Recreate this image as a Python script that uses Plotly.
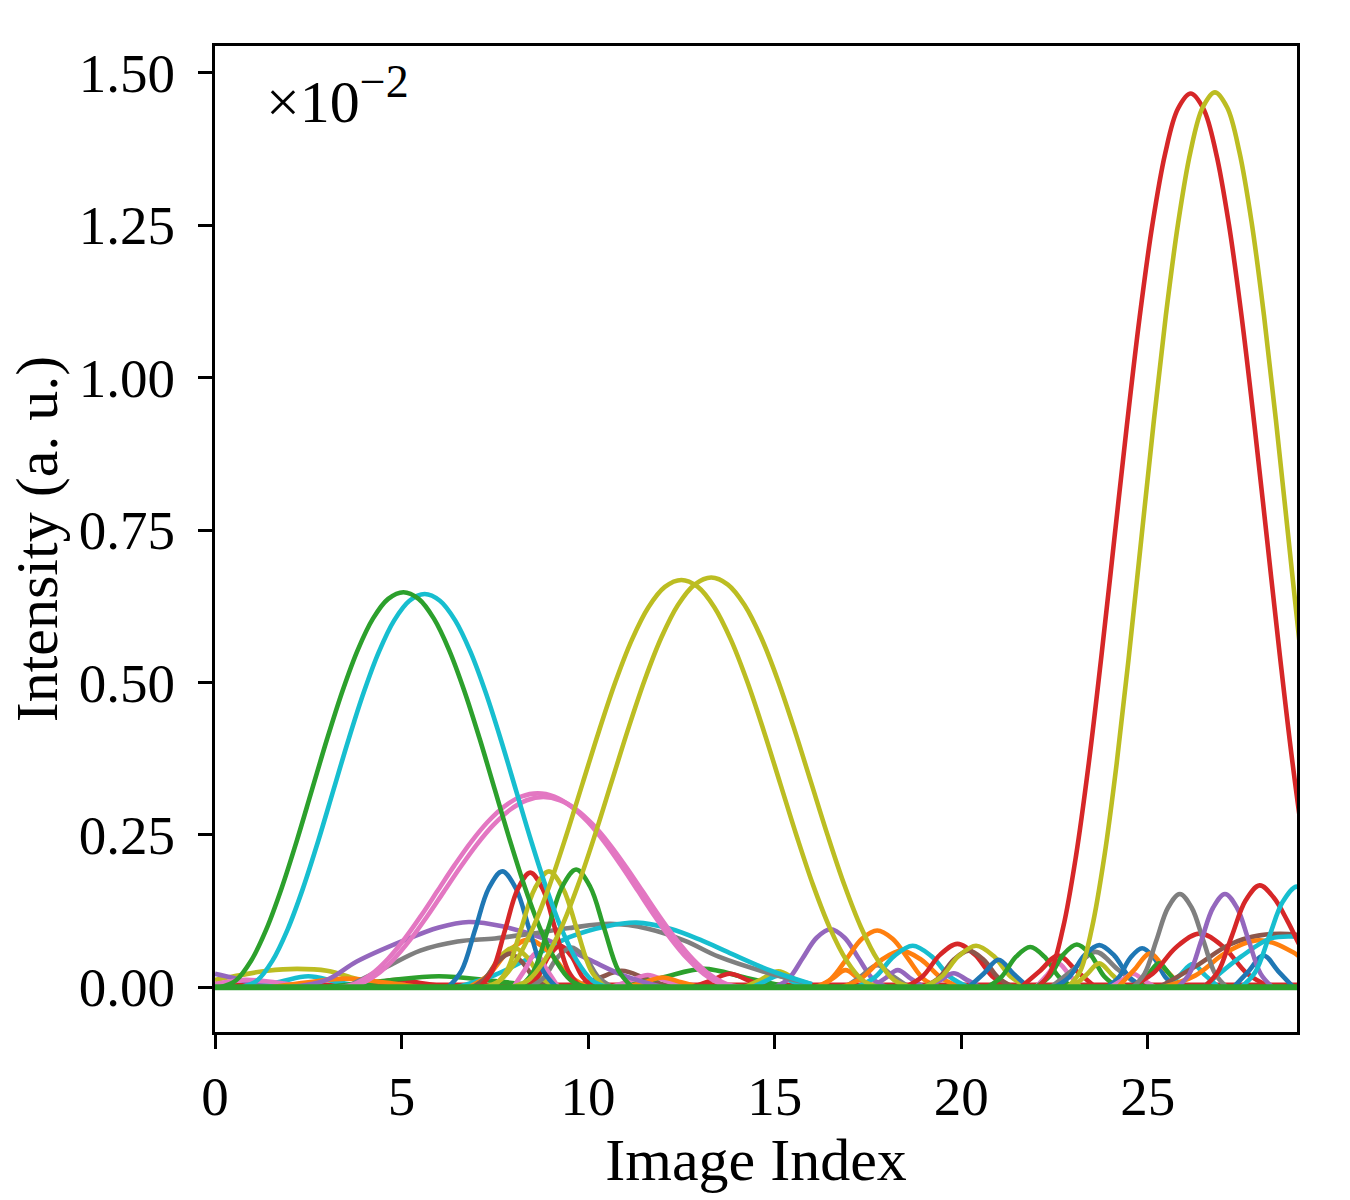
import plotly.graph_objects as go

# ---------------- data (in units of 1e-2) ----------------
x_ticks = [0, 5, 10, 15, 20, 25]
y_ticks = [0.0, 0.25, 0.5, 0.75, 1.0, 1.25, 1.5]
y_ticklabels = ["0.00", "0.25", "0.50", "0.75", "1.00", "1.25", "1.50"]

# low clutter, left part
olive9_x = [0, 0.7, 1.4, 2.2, 3.0, 3.7, 4.4]
olive9_y = [0.012, 0.02, 0.027, 0.03, 0.027, 0.015, 0]
cyan8_x = [1.0, 1.75, 2.5, 3.25, 4.0]
cyan8_y = [0, 0.009, 0.018, 0.009, 0]
purple6_x = [0, 0.5, 1.0, 1.5]
purple6_y = [0.022, 0.015, 0.006, 0]
pink7_x = [0, 0.8, 1.6, 2.4]
pink7_y = [0.005, 0.012, 0.008, 0]
red9_x = [3.5, 4.2, 4.9, 5.6, 6.3]
red9_y = [0, 0.006, 0.012, 0.006, 0]
green7_x = [3.0, 4.5, 6.0, 7.5, 9.0]
green7_y = [0, 0.01, 0.018, 0.01, 0]
orange8_x = [1.5, 2.5, 3.5, 4.5, 5.5]
orange8_y = [0, 0.008, 0.014, 0.008, 0]

# broad low humps
purple1_x = [2.0, 3.0, 3.8, 5.0, 6.0, 6.8, 7.7, 8.8, 10.0, 11.0, 12.0]
purple1_y = [0, 0.012, 0.042, 0.075, 0.098, 0.107, 0.1, 0.08, 0.046, 0.018, 0]
gray1_x = [3.5, 4.5, 5.5, 6.5, 7.5, 8.5, 9.5, 10.6, 11.6, 12.6, 13.5, 14.9, 16.0]
gray1_y = [0, 0.03, 0.06, 0.075, 0.08, 0.088, 0.097, 0.104, 0.096, 0.076, 0.05, 0.022, 0.005]
cyan2_x = [6.5, 7.5, 8.5, 9.5, 10.5, 11.3, 12.2, 13.0, 13.8, 14.9, 16.0]
cyan2_y = [0, 0.02, 0.05, 0.082, 0.1, 0.106, 0.096, 0.078, 0.056, 0.027, 0.005]

# small bumps around index 8-10
orange1_x = [6.8, 7.33, 7.87, 8.4, 8.93, 9.47, 10.0]
orange1_y = [0, 0.02, 0.059, 0.078, 0.059, 0.02, 0]
olive5_x = [6.9, 7.27, 7.63, 8.0, 8.37, 8.73, 9.1]
olive5_y = [0, 0.016, 0.049, 0.065, 0.049, 0.016, 0]
brown1_x = [6.9, 7.23, 7.57, 7.9, 8.23, 8.57, 8.9]
brown1_y = [0, 0.014, 0.041, 0.055, 0.041, 0.014, 0]
red3_x = [8.35, 8.65, 8.95, 9.25, 9.55, 9.85, 10.15]
red3_y = [0, 0.017, 0.051, 0.068, 0.051, 0.017, 0]
gray2_x = [8.45, 8.82, 9.18, 9.55, 9.92, 10.28, 10.65]
gray2_y = [0, 0.016, 0.049, 0.065, 0.049, 0.016, 0]
pink3_x = [8.0, 8.3, 8.6, 8.9, 9.2]
pink3_y = [0, 0.028, 0.055, 0.028, 0]

# middle region small bumps
brown3_x = [9.6, 10.25, 10.9, 11.55, 12.2]
brown3_y = [0, 0.014, 0.027, 0.014, 0]
green4_x = [10.8, 11.95, 13.1, 14.25, 15.4]
green4_y = [0, 0.015, 0.03, 0.015, 0]
pink4_x = [10.6, 11.1, 11.6, 12.1, 12.6]
pink4_y = [0, 0.01, 0.02, 0.01, 0]
orange5_x = [11.0, 11.5, 12.0, 12.5, 13.0]
orange5_y = [0, 0.008, 0.016, 0.008, 0]
red5_x = [12.8, 13.3, 13.8, 14.3, 14.8]
red5_y = [0, 0.011, 0.022, 0.011, 0]
olive7_x = [14.2, 14.65, 15.1, 15.55, 16.0]
olive7_y = [0, 0.013, 0.026, 0.013, 0]
cyan4_x = [14.4, 14.75, 15.1, 15.45, 15.8]
cyan4_y = [0, 0.01, 0.019, 0.01, 0]
purple2_x = [15.0, 15.375, 15.75, 16.125, 16.5, 16.875, 17.25, 17.625, 18.0]
purple2_y = [0, 0.0139, 0.0475, 0.0811, 0.095, 0.0811, 0.0475, 0.0139, 0]
orange4_x = [16.2, 16.55, 16.9, 17.25, 17.6]
orange4_y = [0, 0.014, 0.028, 0.014, 0]
orange2_x = [16.1, 16.51, 16.93, 17.34, 17.75, 18.16, 18.58, 18.99, 19.4]
orange2_y = [0, 0.0136, 0.0465, 0.0794, 0.093, 0.0794, 0.0465, 0.0136, 0]
gray3_x = [16.9, 17.32, 17.75, 18.17, 18.6]
gray3_y = [0, 0.018, 0.036, 0.018, 0]
orange3_x = [16.8, 17.33, 17.87, 18.4, 18.93, 19.47, 20.0]
orange3_y = [0, 0.015, 0.045, 0.06, 0.045, 0.015, 0]
cyan3_x = [17.2, 17.7, 18.2, 18.7, 19.2, 19.7, 20.2]
cyan3_y = [0, 0.017, 0.051, 0.068, 0.051, 0.017, 0]
purple3_x = [17.6, 17.95, 18.3, 18.65, 19.0]
purple3_y = [0, 0.014, 0.028, 0.014, 0]
red4_x = [18.5, 18.97, 19.43, 19.9, 20.37, 20.83, 21.3]
red4_y = [0, 0.018, 0.053, 0.071, 0.053, 0.018, 0]
purple4_x = [19.1, 19.45, 19.8, 20.15, 20.5]
purple4_y = [0, 0.012, 0.023, 0.012, 0]
brown2_x = [19.0, 19.4, 19.8, 20.2, 20.6, 21.0, 21.4]
brown2_y = [0, 0.015, 0.045, 0.06, 0.045, 0.015, 0]
olive6_x = [19.0, 19.47, 19.93, 20.4, 20.87, 21.33, 21.8]
olive6_y = [0, 0.017, 0.051, 0.068, 0.051, 0.017, 0]
blue2_x = [20.2, 20.6, 21.0, 21.4, 21.8]
blue2_y = [0, 0.022, 0.045, 0.022, 0]
green3_x = [20.7, 21.08, 21.47, 21.85, 22.23, 22.62, 23.0]
green3_y = [0, 0.017, 0.05, 0.066, 0.05, 0.017, 0]

# right region small bumps
red8_x = [21.6, 22.1, 22.6, 23.1, 23.6]
red8_y = [0, 0.026, 0.052, 0.026, 0]
pink5_x = [22.0, 22.3, 22.6, 22.9, 23.2]
pink5_y = [0, 0.02, 0.039, 0.02, 0]
gray5_x = [22.4, 23.0, 23.6, 24.2, 24.8]
gray5_y = [0, 0.029, 0.058, 0.029, 0]
green5_x = [22.0, 22.37, 22.73, 23.1, 23.47, 23.83, 24.2]
green5_y = [0, 0.018, 0.053, 0.07, 0.053, 0.018, 0]
blue4_x = [22.5, 22.9, 23.3, 23.7, 24.1, 24.5, 24.9]
blue4_y = [0, 0.017, 0.052, 0.069, 0.052, 0.017, 0]
olive8_x = [23.0, 23.35, 23.7, 24.05, 24.4]
olive8_y = [0, 0.02, 0.039, 0.02, 0]
blue5_x = [23.9, 24.22, 24.53, 24.85, 25.17, 25.48, 25.8]
blue5_y = [0, 0.016, 0.048, 0.064, 0.048, 0.016, 0]
pink6_x = [24.0, 24.3, 24.6, 24.9, 25.2]
pink6_y = [0, 0.011, 0.022, 0.011, 0]
orange7_x = [24.2, 24.63, 25.06, 25.49, 25.92]
orange7_y = [0, 0.028, 0.055, 0.028, 0]
green6_x = [24.7, 25.0, 25.3, 25.6, 25.9]
green6_y = [0, 0.02, 0.039, 0.02, 0]
cyan7_x = [25.5, 25.85, 26.2, 26.55, 26.9]
cyan7_y = [0, 0.019, 0.038, 0.019, 0]
red7_x = [24.5, 25.13, 25.77, 26.4, 27.03, 27.67, 28.3]
red7_y = [0, 0.022, 0.066, 0.088, 0.066, 0.022, 0]
brown4_x = [25.3, 26.3, 27.2, 28.0, 29.0, 30.0]
brown4_y = [0, 0.035, 0.07, 0.085, 0.086, 0.07]
orange6_x = [25.4, 26.27, 27.13, 28.0, 28.87, 29.73, 30.6]
orange6_y = [0, 0.019, 0.058, 0.077, 0.058, 0.019, 0]
cyan6_x = [26.5, 27.5, 28.3, 29.0, 29.8]
cyan6_y = [0, 0.05, 0.08, 0.083, 0.08]
blue3_x = [27.3, 27.7, 28.1, 28.5, 28.9]
blue3_y = [0, 0.026, 0.052, 0.026, 0]
gray4_x = [24.6, 24.915, 25.23, 25.545, 25.86, 26.175, 26.49, 26.805, 27.12]
gray4_y = [0, 0.0223, 0.0765, 0.1307, 0.153, 0.1307, 0.0765, 0.0223, 0]
purple5_x = [25.8, 26.118, 26.435, 26.753, 27.07, 27.388, 27.705, 28.023, 28.34]
purple5_y = [0, 0.0223, 0.0765, 0.1307, 0.153, 0.1307, 0.0765, 0.0223, 0]
red6_x = [26.5, 26.875, 27.25, 27.625, 28.0, 28.375, 28.75, 29.125, 29.5]
red6_y = [0, 0.0244, 0.0835, 0.1426, 0.167, 0.147, 0.108, 0.062, 0.022]
cyan5_x = [27.5, 27.875, 28.25, 28.625, 29.0, 29.375, 29.75, 30.125, 30.5]
cyan5_y = [0, 0.0241, 0.0825, 0.1409, 0.165, 0.1409, 0.0825, 0.0241, 0]

# medium bumps around index 8-10
blue1_x = [6.25, 6.6125, 6.975, 7.3375, 7.7, 8.0625, 8.425, 8.7875, 9.15]
blue1_y = [0, 0.0277, 0.095, 0.1623, 0.19, 0.1623, 0.095, 0.0277, 0]
red2_x = [7.1, 7.4375, 7.775, 8.1125, 8.45, 8.7875, 9.125, 9.4625, 9.8]
red2_y = [0, 0.0274, 0.094, 0.1606, 0.188, 0.1606, 0.094, 0.0274, 0]
olive4_x = [7.45, 7.825, 8.2, 8.575, 8.95, 9.325, 9.7, 10.075, 10.45]
olive4_y = [0, 0.0277, 0.095, 0.1623, 0.19, 0.1623, 0.095, 0.0277, 0]
green2_x = [8.18, 8.555, 8.93, 9.305, 9.68, 10.055, 10.43, 10.805, 11.18]
green2_y = [0, 0.0282, 0.0965, 0.1648, 0.193, 0.1648, 0.0965, 0.0282, 0]

# large peaks
pink1_x = [3.3, 3.746, 4.192, 4.638, 5.083, 5.529, 5.975, 6.421, 6.867, 7.313, 7.758, 8.204, 8.65,
           9.096, 9.542, 9.988, 10.433, 10.879, 11.325, 11.771, 12.217, 12.663, 13.108, 13.554, 14.0]
pink1_y = [0, 0.0054, 0.0213, 0.0466, 0.0795, 0.1178, 0.159, 0.2002, 0.2385, 0.2714, 0.2967, 0.3126, 0.318,
           0.3126, 0.2967, 0.2714, 0.2385, 0.2002, 0.159, 0.1178, 0.0795, 0.0466, 0.0213, 0.0054, 0]
pink2_x = [3.45, 3.896, 4.342, 4.788, 5.233, 5.679, 6.125, 6.571, 7.017, 7.463, 7.908, 8.354, 8.8,
           9.246, 9.692, 10.138, 10.583, 11.029, 11.475, 11.921, 12.367, 12.813, 13.258, 13.704, 14.15]
pink2_y = [0, 0.0053, 0.0209, 0.0457, 0.078, 0.1156, 0.156, 0.1964, 0.234, 0.2663, 0.2911, 0.3067, 0.312,
           0.3067, 0.2911, 0.2663, 0.234, 0.1964, 0.156, 0.1156, 0.078, 0.0457, 0.0209, 0.0053, 0]
cyan1_x = [0.72, 1.128, 1.537, 1.945, 2.353, 2.762, 3.17, 3.578, 3.987, 4.395, 4.803, 5.212, 5.62,
           6.028, 6.437, 6.845, 7.253, 7.662, 8.07, 8.478, 8.887, 9.295, 9.703, 10.112, 10.52]
cyan1_y = [0, 0.011, 0.0432, 0.0945, 0.1613, 0.239, 0.3225, 0.406, 0.4838, 0.5505, 0.6018, 0.634, 0.645,
           0.634, 0.6018, 0.5505, 0.4838, 0.406, 0.3225, 0.239, 0.1613, 0.0945, 0.0432, 0.011, 0]
green1_x = [0.15, 0.558, 0.967, 1.375, 1.783, 2.192, 2.6, 3.008, 3.417, 3.825, 4.233, 4.642, 5.05,
            5.458, 5.867, 6.275, 6.683, 7.092, 7.5, 7.908, 8.317, 8.725, 9.133, 9.542, 9.95]
green1_y = [0, 0.011, 0.0434, 0.0949, 0.162, 0.2401, 0.324, 0.4079, 0.486, 0.5531, 0.6046, 0.637, 0.648,
            0.637, 0.6046, 0.5531, 0.486, 0.4079, 0.324, 0.2401, 0.162, 0.0949, 0.0434, 0.011, 0]
olive1_x = [7.2, 7.642, 8.083, 8.525, 8.967, 9.408, 9.85, 10.292, 10.733, 11.175, 11.617, 12.058, 12.5,
            12.942, 13.383, 13.825, 14.267, 14.708, 15.15, 15.592, 16.033, 16.475, 16.917, 17.358, 17.8]
olive1_y = [0, 0.0114, 0.0448, 0.0978, 0.167, 0.2476, 0.334, 0.4204, 0.501, 0.5702, 0.6233, 0.6566, 0.668,
            0.6566, 0.6233, 0.5702, 0.501, 0.4204, 0.334, 0.2476, 0.167, 0.0978, 0.0448, 0.0114, 0]
olive2_x = [7.95, 8.396, 8.842, 9.288, 9.733, 10.179, 10.625, 11.071, 11.517, 11.963, 12.408, 12.854, 13.3,
            13.746, 14.192, 14.638, 15.083, 15.529, 15.975, 16.421, 16.867, 17.313, 17.758, 18.204, 18.65]
olive2_y = [0, 0.0115, 0.045, 0.0984, 0.168, 0.249, 0.336, 0.423, 0.504, 0.5736, 0.627, 0.6605, 0.672,
            0.6605, 0.627, 0.5736, 0.504, 0.423, 0.336, 0.249, 0.168, 0.0984, 0.045, 0.0115, 0]
red1_x = [22.05, 22.392, 22.733, 23.075, 23.417, 23.758, 24.1, 24.442, 24.783, 25.125, 25.467, 25.808, 26.15,
          26.492, 26.833, 27.175, 27.517, 27.858, 28.2, 28.542, 28.883, 29.225, 29.567, 29.908, 30.25]
red1_y = [0, 0.025, 0.0982, 0.2147, 0.3665, 0.5433, 0.733, 0.9227, 1.0995, 1.2513, 1.3678, 1.441, 1.466,
          1.441, 1.3678, 1.2513, 1.0995, 0.9227, 0.733, 0.5433, 0.3665, 0.2147, 0.0982, 0.025, 0]
olive3_x = [22.85, 23.179, 23.508, 23.838, 24.167, 24.496, 24.825, 25.154, 25.483, 25.813, 26.142, 26.471, 26.8,
            27.129, 27.458, 27.788, 28.117, 28.446, 28.775, 29.104, 29.433, 29.763, 30.092, 30.421, 30.75]
olive3_y = [0, 0.025, 0.0983, 0.215, 0.367, 0.544, 0.734, 0.924, 1.101, 1.253, 1.3697, 1.443, 1.468,
            1.443, 1.3697, 1.253, 1.101, 0.924, 0.734, 0.544, 0.367, 0.215, 0.0983, 0.025, 0]

# flat baselines
base_x = [0, 29]
base_red_y = [0.004, 0.004]
base_green_y = [0, 0]

# ---------------- styling ----------------
BLUE, ORANGE, GREEN, RED, PURPLE = "#1f77b4", "#ff7f0e", "#2ca02c", "#d62728", "#9467bd"
BROWN, PINK, GRAY, OLIVE, CYAN = "#8c564b", "#e377c2", "#7f7f7f", "#bcbd22", "#17becf"

series = [
    (base_x, base_red_y, RED),
    (olive9_x, olive9_y, OLIVE), (cyan8_x, cyan8_y, CYAN), (purple6_x, purple6_y, PURPLE),
    (pink7_x, pink7_y, PINK), (red9_x, red9_y, RED), (green7_x, green7_y, GREEN),
    (orange8_x, orange8_y, ORANGE),
    (brown3_x, brown3_y, BROWN), (green4_x, green4_y, GREEN), (pink4_x, pink4_y, PINK),
    (orange5_x, orange5_y, ORANGE), (red5_x, red5_y, RED), (olive7_x, olive7_y, OLIVE),
    (cyan4_x, cyan4_y, CYAN), (purple2_x, purple2_y, PURPLE), (orange4_x, orange4_y, ORANGE),
    (orange2_x, orange2_y, ORANGE), (gray3_x, gray3_y, GRAY), (orange3_x, orange3_y, ORANGE),
    (cyan3_x, cyan3_y, CYAN), (purple3_x, purple3_y, PURPLE), (red4_x, red4_y, RED),
    (purple4_x, purple4_y, PURPLE), (brown2_x, brown2_y, BROWN), (olive6_x, olive6_y, OLIVE),
    (blue2_x, blue2_y, BLUE), (green3_x, green3_y, GREEN),
    (red8_x, red8_y, RED), (pink5_x, pink5_y, PINK), (gray5_x, gray5_y, GRAY),
    (green5_x, green5_y, GREEN), (blue4_x, blue4_y, BLUE), (olive8_x, olive8_y, OLIVE),
    (blue5_x, blue5_y, BLUE), (pink6_x, pink6_y, PINK), (orange7_x, orange7_y, ORANGE),
    (green6_x, green6_y, GREEN), (cyan7_x, cyan7_y, CYAN), (red7_x, red7_y, RED),
    (brown4_x, brown4_y, BROWN), (orange6_x, orange6_y, ORANGE), (cyan6_x, cyan6_y, CYAN),
    (blue3_x, blue3_y, BLUE), (gray4_x, gray4_y, GRAY), (purple5_x, purple5_y, PURPLE),
    (red6_x, red6_y, RED), (cyan5_x, cyan5_y, CYAN),
    (purple1_x, purple1_y, PURPLE), (gray1_x, gray1_y, GRAY), (cyan2_x, cyan2_y, CYAN),
    (orange1_x, orange1_y, ORANGE), (olive5_x, olive5_y, OLIVE), (brown1_x, brown1_y, BROWN),
    (red3_x, red3_y, RED), (gray2_x, gray2_y, GRAY), (pink3_x, pink3_y, PINK),
    (blue1_x, blue1_y, BLUE), (red2_x, red2_y, RED), (olive4_x, olive4_y, OLIVE),
    (green2_x, green2_y, GREEN),
    (pink1_x, pink1_y, PINK), (pink2_x, pink2_y, PINK),
    (cyan1_x, cyan1_y, CYAN), (green1_x, green1_y, GREEN),
    (olive1_x, olive1_y, OLIVE), (olive2_x, olive2_y, OLIVE),
    (red1_x, red1_y, RED), (olive3_x, olive3_y, OLIVE),
]

fig = go.Figure()
for xs, ys, col in series:
    fig.add_trace(go.Scatter(
        x=xs, y=ys, mode="lines",
        line=dict(color=col, width=4.6, shape="spline", smoothing=1.0),
        hoverinfo="skip", showlegend=False,
    ))
# thick zero baseline made of many overlapping lines in the original
fig.add_trace(go.Scatter(
    x=base_x, y=base_green_y, mode="lines",
    line=dict(color=GREEN, width=6),
    hoverinfo="skip", showlegend=False,
))

FONT = "Liberation Serif"
fig.update_layout(
    width=1350, height=1200,
    margin=dict(l=215, r=53, t=46, b=168),
    plot_bgcolor="white", paper_bgcolor="white",
    font=dict(family=FONT, size=55, color="black"),
)
axis_common = dict(
    showline=True, linewidth=3, linecolor="black", mirror=True,
    ticks="outside", ticklen=14, tickwidth=3, tickcolor="black",
    showgrid=False, zeroline=False,
    tickfont=dict(family=FONT, size=55, color="black"),
)
fig.update_xaxes(
    range=[0, 29], tickmode="array", tickvals=x_ticks,
    title=dict(text="Image Index", font=dict(family=FONT, size=60), standoff=12),
    **axis_common,
)
fig.update_yaxes(
    range=[-0.0735, 1.544], tickmode="array", tickvals=y_ticks, ticktext=y_ticklabels,
    ticklabelstandoff=12,
    title=dict(text="Intensity (a. u.)", font=dict(family=FONT, size=60), standoff=2),
    **axis_common,
)
fig.add_annotation(
    xref="paper", yref="paper", x=0.045, y=0.992, xanchor="left", yanchor="top",
    text="×10<sup><span style='font-size:46px'>−2</span></sup>", showarrow=False,
    font=dict(family=FONT, size=60, color="black"),
)

fig.write_html("out.html")
